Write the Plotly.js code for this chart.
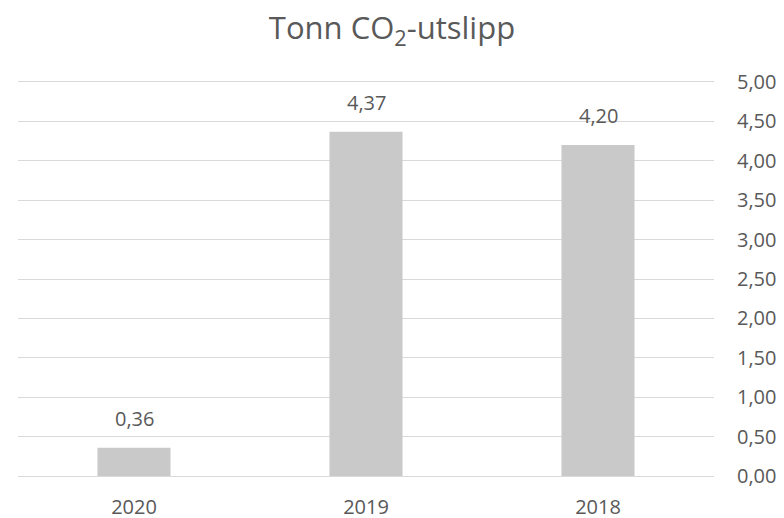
<!DOCTYPE html>
<html>
<head>
<meta charset="utf-8">
<script src="https://cdn.plot.ly/plotly-3.0.1.min.js"></script>
<style>html,body{margin:0;padding:0;background:#fff;}#chart{width:784px;height:518px;}</style>
</head>
<body>
<div id="chart"></div>
<script>
const years = ['2020', '2019', '2018'];
const emissions = [0.36, 4.37, 4.20];
const yTicks = [0, 0.5, 1, 1.5, 2, 2.5, 3, 3.5, 4, 4.5, 5];

const fmt = v => v.toFixed(2).replace('.', ',');
const textColor = '#595959';
const fontFam = '"Open Sans", "Liberation Sans", sans-serif';

const trace = {
  type: 'bar',
  x: years,
  y: emissions,
  marker: {color: '#c9c9c9'},
  hoverinfo: 'skip'
};

const annotations = years.map((yr, i) => ({
  x: i, y: emissions[i], xref: 'x', yref: 'y',
  text: fmt(emissions[i]), showarrow: false,
  yanchor: 'bottom', yshift: 14,
  font: {family: fontFam, size: 20, color: textColor}
}));

const layout = {
  width: 784, height: 518,
  margin: {l: 18, r: 70, t: 82, b: 42},
  paper_bgcolor: '#ffffff', plot_bgcolor: '#ffffff',
  separators: ', ',
  showlegend: false,
  bargap: 0.685,
  title: {
    text: 'Tonn CO<sub>2</sub>-utslipp',
    font: {family: fontFam, size: 31, color: textColor},
    x: 0.5, xref: 'container', xanchor: 'center',
    y: 0.945, yref: 'container', yanchor: 'middle'
  },
  xaxis: {
    type: 'category',
    categoryorder: 'array', categoryarray: years,
    range: [-0.5, years.length - 0.5], autorange: false,
    showgrid: false, zeroline: false,
    showline: true, mirror: true, linecolor: '#d9d9d9', linewidth: 1,
    ticks: 'outside', ticklen: 13, tickcolor: 'rgba(0,0,0,0)',
    tickfont: {family: fontFam, size: 20, color: textColor}
  },
  yaxis: {
    side: 'right',
    range: [0, 5], autorange: false,
    tickvals: yTicks,
    ticktext: yTicks.map(fmt),
    showgrid: true, gridcolor: '#d9d9d9', gridwidth: 1,
    zeroline: false, showline: false,
    ticks: 'outside', ticklen: 18, tickcolor: 'rgba(0,0,0,0)',
    tickfont: {family: fontFam, size: 20, color: textColor}
  },
  annotations: annotations
};

Plotly.newPlot('chart', [trace], layout, {displayModeBar: false, staticPlot: true});
</script>
</body>
</html>
